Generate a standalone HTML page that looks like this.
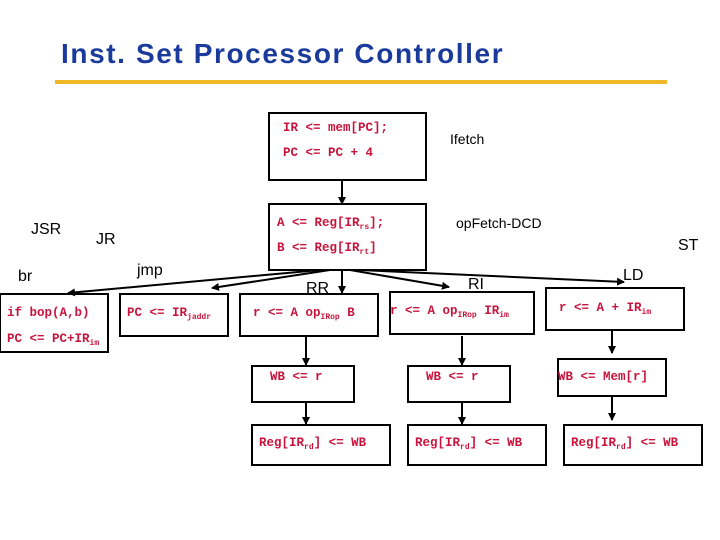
<!DOCTYPE html>
<html><head><meta charset="utf-8"><style>
body{margin:0;background:#fff;width:720px;height:540px;overflow:hidden;position:relative;font-family:"Liberation Sans",sans-serif}
.t{position:absolute;white-space:nowrap}
.c{position:absolute;white-space:nowrap;font-family:"Liberation Mono",monospace;font-weight:bold;font-size:12.5px;color:#c8143c}
.c sub{font-size:8px;vertical-align:-3px}
.l{position:absolute;font-size:16px;color:#000;white-space:nowrap}
</style></head><body>
<div class="t" style="left:61px;top:38px;font-size:28px;font-weight:bold;color:#1a3a9c;letter-spacing:1.6px;line-height:32px">Inst. Set Processor Controller</div>
<div style="position:absolute;left:55px;top:80px;width:612px;height:4px;background:#f0b828"></div>
<svg width="720" height="540" style="position:absolute;left:0;top:0">
<defs><marker id="a" markerWidth="8" markerHeight="8" refX="7" refY="4" orient="auto" markerUnits="userSpaceOnUse"><path d="M0,0L8,4L0,8z" fill="#000"/></marker></defs>
<g fill="none" stroke="#000" stroke-width="2">
<rect x="269" y="113" width="157" height="67"/>
<rect x="269" y="204" width="157" height="66"/>
<rect x="0" y="294" width="108" height="58"/>
<rect x="120" y="294" width="108" height="42"/>
<rect x="240" y="294" width="138" height="42"/>
<rect x="390" y="292" width="144" height="42"/>
<rect x="546" y="288" width="138" height="42"/>
<rect x="252" y="366" width="102" height="36"/>
<rect x="408" y="366" width="102" height="36"/>
<rect x="558" y="359" width="108" height="37"/>
<rect x="252" y="425" width="138" height="40"/>
<rect x="408" y="425" width="138" height="40"/>
<rect x="564" y="425" width="138" height="40"/>
<g marker-end="url(#a)">
<line x1="342" y1="180" x2="342" y2="204"/>
<line x1="320" y1="270" x2="68" y2="293"/>
<line x1="330" y1="270" x2="212" y2="288"/>
<line x1="342" y1="270" x2="342" y2="293"/>
<line x1="350" y1="270" x2="449" y2="287"/>
<line x1="360" y1="270" x2="624" y2="282"/>
<line x1="306" y1="336" x2="306" y2="365"/>
<line x1="306" y1="402" x2="306" y2="424"/>
<line x1="462" y1="336" x2="462" y2="365"/>
<line x1="462" y1="402" x2="462" y2="424"/>
<line x1="612" y1="330" x2="612" y2="353"/>
<line x1="612" y1="396" x2="612" y2="420"/>
</g></g></svg>
<div class="c" style="left:283px;top:121px">IR &lt;= mem[PC];</div>
<div class="c" style="left:283px;top:146px">PC &lt;= PC + 4</div>
<div class="c" style="left:277px;top:216px">A &lt;= Reg[IR<sub>rs</sub>];</div>
<div class="c" style="left:277px;top:241px">B &lt;= Reg[IR<sub>rt</sub>]</div>
<div class="c" style="left:7px;top:306px">if bop(A,b)</div>
<div class="c" style="left:7px;top:332px">PC &lt;= PC+IR<sub>im</sub></div>
<div class="c" style="left:127px;top:306px">PC &lt;= IR<sub>jaddr</sub></div>
<div class="c" style="left:253px;top:306px">r &lt;= A op<sub>IRop</sub> B</div>
<div class="c" style="left:390px;top:304px">r &lt;= A op<sub>IRop</sub> IR<sub>im</sub></div>
<div class="c" style="left:559px;top:301px">r &lt;= A + IR<sub>im</sub></div>
<div class="c" style="left:270px;top:370px">WB &lt;= r</div>
<div class="c" style="left:426px;top:370px">WB &lt;= r</div>
<div class="c" style="left:558px;top:370px">WB &lt;= Mem[r]</div>
<div class="c" style="left:259px;top:436px">Reg[IR<sub>rd</sub>] &lt;= WB</div>
<div class="c" style="left:415px;top:436px">Reg[IR<sub>rd</sub>] &lt;= WB</div>
<div class="c" style="left:571px;top:436px">Reg[IR<sub>rd</sub>] &lt;= WB</div>
<div class="l" style="left:450px;top:131px;font-size:14px">Ifetch</div>
<div class="l" style="left:456px;top:215px;font-size:14px">opFetch-DCD</div>
<div class="l" style="left:678px;top:237px">ST</div>
<div class="l" style="left:31px;top:221px">JSR</div>
<div class="l" style="left:96px;top:231px">JR</div>
<div class="l" style="left:18px;top:268px">br</div>
<div class="l" style="left:137px;top:262px">jmp</div>
<div class="l" style="left:306px;top:280px">RR</div>
<div class="l" style="left:468px;top:276px">RI</div>
<div class="l" style="left:623px;top:267px">LD</div>
</body></html>
